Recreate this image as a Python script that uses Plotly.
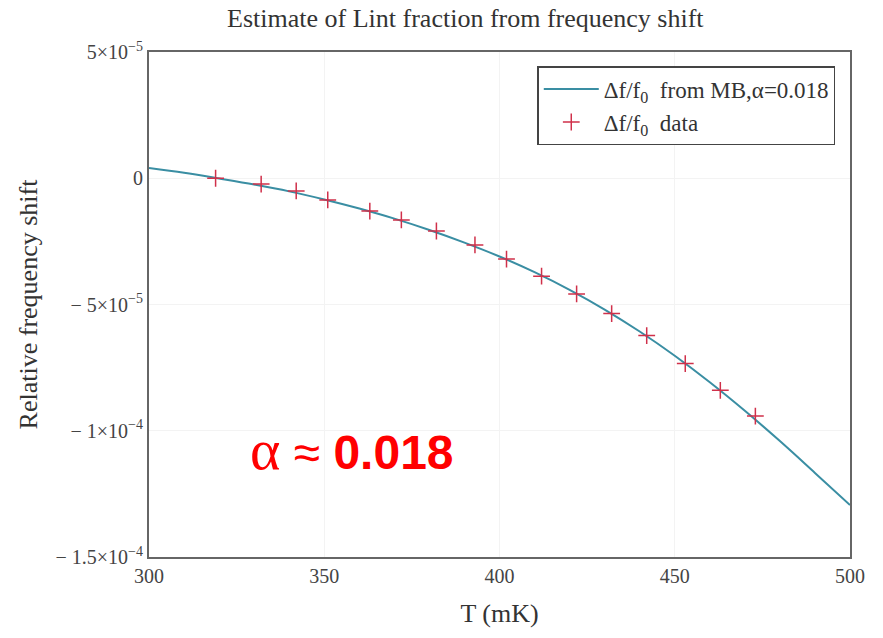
import plotly.graph_objects as go

# Model curve (T in mK, relative shift)
T_curve = [300, 310, 320, 330, 340, 350, 360, 370, 380, 390, 400,
           410, 420, 430, 440, 450, 460, 470, 480, 490, 500]
shift_curve = [4.1e-6, 2.2e-6, -0.1e-6, -2.5e-6, -5.2e-6, -8.4e-6, -12.0e-6,
               -16.0e-6, -20.5e-6, -25.5e-6, -31.0e-6, -37.2e-6, -44.2e-6,
               -52.0e-6, -60.7e-6, -70.3e-6, -80.8e-6, -92.1e-6, -104.1e-6,
               -116.7e-6, -129.4e-6]

# Measured data (crosses)
T_data = [319, 332, 342, 351, 363, 372, 382, 393, 402, 412, 422, 432, 442, 453, 463, 473]
shift_data = [0.0, -2.3e-6, -5.0e-6, -8.6e-6, -13.0e-6, -16.5e-6, -20.9e-6,
              -26.4e-6, -32.0e-6, -38.8e-6, -45.8e-6, -53.6e-6, -62.3e-6,
              -73.4e-6, -84.0e-6, -94.2e-6]

x_ticks = [300, 350, 400, 450, 500]
y_ticks = [5e-5, 0, -5e-5, -1e-4, -1.5e-4]
y_ticktext = ["5×10<sup>−5</sup>", "0", "− 5×10<sup>−5</sup>",
              "− 1×10<sup>−4</sup>", "− 1.5×10<sup>−4</sup>"]

serif = "Liberation Serif"

fig = go.Figure()
fig.add_trace(go.Scatter(
    x=T_curve, y=shift_curve, mode="lines", line=dict(color="#3a8ea3", width=2, shape="spline"),
    name="Δf/f<sub>0</sub>  from MB,α=0.018"))
fig.add_trace(go.Scatter(
    x=T_data, y=shift_data, mode="markers",
    marker=dict(symbol="cross-thin", size=12, line=dict(color="#d0304a", width=1.5)),
    name="Δf/f<sub>0</sub>  data"))

fig.update_layout(
    width=883, height=638,
    margin=dict(l=149, r=33, t=52, b=81),
    paper_bgcolor="white", plot_bgcolor="white",
    font=dict(family=serif, size=20, color="#333"),
    title=dict(text="Estimate of Lint fraction from frequency shift", x=0.527, xanchor="center",
               y=0.972, yanchor="middle", font=dict(family=serif, size=26, color="#333")),
    showlegend=True,
    legend=dict(x=0.979, xanchor="right", y=0.972, yanchor="top",
                bordercolor="#444", borderwidth=1.5, bgcolor="white",
                font=dict(family=serif, size=23, color="#333"), tracegroupgap=0,
                itemwidth=55),
    xaxis=dict(range=[300, 500], tickvals=x_ticks, ticktext=[str(v) for v in x_ticks],
               showgrid=True, gridcolor="#f3f3f3", gridwidth=1, zeroline=False,
               showline=True, mirror=True, linecolor="#666", linewidth=2,
               ticks="", tickfont=dict(family=serif, size=20, color="#444"),
               title=dict(text="T (mK)", font=dict(family=serif, size=26, color="#333"), standoff=18)),
    yaxis=dict(range=[-1.5e-4, 5e-5], tickvals=y_ticks, ticktext=y_ticktext,
               showgrid=True, gridcolor="#f3f3f3", gridwidth=1, zeroline=False,
               showline=True, mirror=True, linecolor="#666", linewidth=2,
               ticks="", tickfont=dict(family=serif, size=20, color="#444"),
               title=dict(text="Relative frequency shift", font=dict(family=serif, size=26, color="#333"), standoff=10)),
)

fig.add_annotation(x=0.141, y=0.212, xref="paper", yref="paper", xanchor="left", yanchor="middle",
                   showarrow=False,
                   text="<span style='font-family:Liberation Serif;font-size:58px'>α</span> ≈ <b>0.018</b>",
                   font=dict(family="Liberation Sans", size=48, color="#ff0000"))

fig.write_html("out.html")
